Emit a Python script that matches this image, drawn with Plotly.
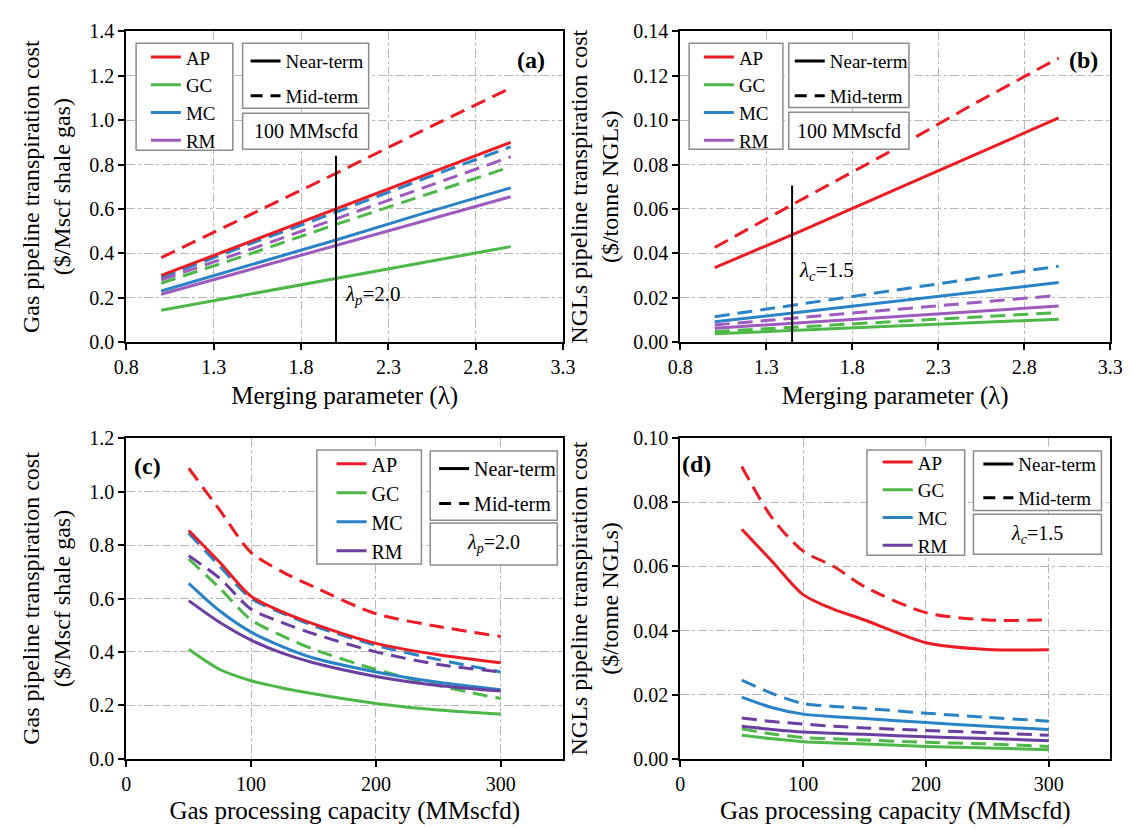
import plotly.graph_objects as go

W, H = 1133, 830
FONT = "Liberation Serif, Times New Roman, DejaVu Serif, serif"

regions = ["AP", "GC", "MC", "RM"]
colors_top = {"AP": "#EC1C24", "GC": "#4DB848", "MC": "#2A83C6", "RM": "#9E5BBE"}
colors_bot = {"AP": "#EC1C24", "GC": "#4DB848", "MC": "#2A83C6", "RM": "#6A3FA0"}

# ---- panel (a): gas pipeline cost vs merging parameter ----
lam = [1.0, 1.5, 2.0, 2.5, 3.0]
a_near = {
    "AP": [0.30, 0.45, 0.60, 0.75, 0.90],
    "GC": [0.143, 0.215, 0.285, 0.36, 0.43],
    "MC": [0.23, 0.345, 0.46, 0.58, 0.695],
    "RM": [0.215, 0.325, 0.435, 0.545, 0.655],
}
a_mid = {
    "AP": [0.38, 0.57, 0.76, 0.955, 1.145],
    "GC": [0.265, 0.395, 0.53, 0.66, 0.79],
    "MC": [0.29, 0.44, 0.585, 0.735, 0.88],
    "RM": [0.28, 0.415, 0.555, 0.695, 0.835],
}
a_marker_x = 2.0
a_marker_top = 0.84

# ---- panel (b): NGL pipeline cost vs merging parameter ----
b_near = {
    "AP": [0.0335, 0.050, 0.067, 0.084, 0.101],
    "GC": [0.0037, 0.0054, 0.007, 0.0087, 0.0103],
    "MC": [0.0091, 0.0135, 0.018, 0.0224, 0.0268],
    "RM": [0.0062, 0.0087, 0.0112, 0.0137, 0.0162],
}
b_mid = {
    "AP": [0.0426, 0.064, 0.085, 0.107, 0.128],
    "GC": [0.0047, 0.0069, 0.009, 0.0112, 0.0133],
    "MC": [0.0114, 0.017, 0.0228, 0.0285, 0.0342],
    "RM": [0.0077, 0.011, 0.0144, 0.0177, 0.021],
}
b_marker_x = 1.45
b_marker_top = 0.0705

# ---- panel (c) and (d): cost vs gas processing capacity ----
cap = [50, 75, 100, 125, 150, 200, 250, 300]
c_near = {
    "AP": [0.855, 0.735, 0.608, 0.55, 0.505, 0.432, 0.389, 0.359],
    "GC": [0.41, 0.334, 0.292, 0.265, 0.243, 0.207, 0.182, 0.167],
    "MC": [0.657, 0.553, 0.474, 0.42, 0.377, 0.325, 0.286, 0.258],
    "RM": [0.592, 0.51, 0.444, 0.395, 0.359, 0.308, 0.274, 0.253],
}
c_mid = {
    "AP": [1.088, 0.93, 0.772, 0.70, 0.644, 0.543, 0.495, 0.458],
    "GC": [0.748, 0.638, 0.52, 0.46, 0.41, 0.334, 0.274, 0.225],
    "MC": [0.845, 0.72, 0.60, 0.545, 0.498, 0.425, 0.371, 0.325],
    "RM": [0.76, 0.675, 0.56, 0.51, 0.468, 0.40, 0.353, 0.325],
}
d_near = {
    "AP": [0.0716, 0.0615, 0.0512, 0.0466, 0.0433, 0.0362, 0.0341, 0.034],
    "GC": [0.0073, 0.0062, 0.0053, 0.0049, 0.0046, 0.0038, 0.0033, 0.0028],
    "MC": [0.0192, 0.0159, 0.0139, 0.0131, 0.0125, 0.0113, 0.0101, 0.0091],
    "RM": [0.0101, 0.0091, 0.0083, 0.0079, 0.0076, 0.0068, 0.0063, 0.0056],
}
d_mid = {
    "AP": [0.0912, 0.075, 0.0648, 0.060, 0.0537, 0.0456, 0.0433, 0.0433],
    "GC": [0.0093, 0.0077, 0.0066, 0.0062, 0.0058, 0.0051, 0.0046, 0.0038],
    "MC": [0.0245, 0.0203, 0.0172, 0.0163, 0.0157, 0.0142, 0.0129, 0.0117],
    "RM": [0.0127, 0.0116, 0.0108, 0.0101, 0.0096, 0.0088, 0.0081, 0.0073],
}

x_lam_ticks = [0.8, 1.3, 1.8, 2.3, 2.8, 3.3]
x_cap_ticks = [0, 100, 200, 300]

# --------------------------------------------------------------------
def px_x(p):
    return p / W


def px_y(p):
    return 1 - p / H


fig = go.Figure()

DASH = "15px,8px"
LW = 3

panels = [
    ("a", "x", "y", lam, a_near, a_mid, colors_top, "legend", "legend2", "linear"),
    ("b", "x2", "y2", lam, b_near, b_mid, colors_top, "legend3", "legend4", "linear"),
    ("c", "x3", "y3", cap, c_near, c_mid, colors_bot, "legend5", "legend6", "spline"),
    ("d", "x4", "y4", cap, d_near, d_mid, colors_bot, "legend7", "legend8", "spline"),
]

for key, xa, ya, xs, near, mid, cols, leg_c, leg_l, shape in panels:
    for r in regions:
        fig.add_trace(go.Scatter(
            x=xs, y=mid[r], mode="lines", xaxis=xa, yaxis=ya,
            line=dict(color=cols[r], width=LW, dash=DASH, shape=shape, smoothing=0.8),
            showlegend=False, hoverinfo="skip"))
    for r in regions:
        fig.add_trace(go.Scatter(
            x=xs, y=near[r], mode="lines", xaxis=xa, yaxis=ya, name=r,
            line=dict(color=cols[r], width=LW, shape=shape, smoothing=0.8),
            legend=leg_c, legendgroup=key + r, showlegend=True, hoverinfo="skip"))
    fig.add_trace(go.Scatter(
        x=[None], y=[None], mode="lines", xaxis=xa, yaxis=ya, name="Near-term",
        line=dict(color="black", width=LW), legend=leg_l, legendgroup=key + "near"))
    fig.add_trace(go.Scatter(
        x=[None], y=[None], mode="lines", xaxis=xa, yaxis=ya, name="Mid-term",
        line=dict(color="black", width=LW, dash="12px,8px"), legend=leg_l,
        legendgroup=key + "mid"))

fig.add_trace(go.Scatter(x=[a_marker_x, a_marker_x], y=[0, a_marker_top], mode="lines",
                         xaxis="x", yaxis="y", line=dict(color="black", width=2),
                         showlegend=False, hoverinfo="skip"))
fig.add_trace(go.Scatter(x=[b_marker_x, b_marker_x], y=[0, b_marker_top], mode="lines",
                         xaxis="x2", yaxis="y2", line=dict(color="black", width=2),
                         showlegend=False, hoverinfo="skip"))

axis_common = dict(
    showline=True, linecolor="black", linewidth=2, mirror=True,
    ticks="outside", ticklen=6, tickwidth=2, tickcolor="black",
    showgrid=True, gridcolor="#b8b8b8", griddash="dashdot", gridwidth=1,
    zeroline=False, tickfont=dict(family=FONT, size=20, color="black"),
)
xtitle_font = dict(family=FONT, size=25, color="black")
ytitle_font = dict(family=FONT, size=24, color="black")

left_dom = [px_x(116), px_x(563)]
right_dom = [px_x(683), px_x(1123)]
top_dom = [px_y(340), px_y(21)]
bot_dom = [px_y(768), px_y(439)]

YT_A = "Gas pipeline transpiration cost<br>($/Mscf shale gas)"
YT_B = "NGLs pipeline transpiration cost<br>($/tonne NGLs)"
XT_L = "Merging parameter (λ)"
XT_C = "Gas processing capacity (MMscfd)"

fig.update_layout(
    xaxis=dict(domain=left_dom, range=[0.8, 3.3], tickvals=x_lam_ticks, tickformat=".1f",
               anchor="y", title=dict(text=XT_L, font=xtitle_font, standoff=10), **axis_common),
    yaxis=dict(domain=top_dom, range=[0, 1.4], dtick=0.2, tickformat=".1f", anchor="x",
               title=dict(text=YT_A, font=ytitle_font, standoff=12), **axis_common),
    xaxis2=dict(domain=right_dom, range=[0.8, 3.3], tickvals=x_lam_ticks, tickformat=".1f",
                anchor="y2", title=dict(text=XT_L, font=xtitle_font, standoff=10), **axis_common),
    yaxis2=dict(domain=top_dom, range=[0, 0.14], dtick=0.02, tickformat=".2f", anchor="x2",
                title=dict(text=YT_B, font=ytitle_font, standoff=8), **axis_common),
    xaxis3=dict(domain=left_dom, range=[0, 350], tickvals=x_cap_ticks, anchor="y3",
                title=dict(text=XT_C, font=xtitle_font, standoff=8), **axis_common),
    yaxis3=dict(domain=bot_dom, range=[0, 1.2], dtick=0.2, tickformat=".1f", anchor="x3",
                title=dict(text=YT_A, font=ytitle_font, standoff=12), **axis_common),
    xaxis4=dict(domain=right_dom, range=[0, 350], tickvals=x_cap_ticks, anchor="y4",
                title=dict(text=XT_C, font=xtitle_font, standoff=8), **axis_common),
    yaxis4=dict(domain=bot_dom, range=[0, 0.10], dtick=0.02, tickformat=".2f", anchor="x4",
                title=dict(text=YT_B, font=ytitle_font, standoff=8), **axis_common),
)

# per panel: color box, line box, info box, info text, label centre,
#            color legend (x, top, font, gap), line legend (x, top, font, gap)
boxes = {
    "a": ((126, 33, 225, 143), (235, 33, 364, 100), (235, 105, 364, 142), "100 MMscfd",
          (530, 50), (136, 28, 19, 0), (238, 32, 19, 7)),
    "b": ((692, 33, 788, 142), (794, 33, 917, 99), (794, 104, 917, 142), "100 MMscfd",
          (1096, 50), (702, 28, 19, 0), (795, 32, 19, 7)),
    "c": ((311, 451, 418, 568), (427, 452, 557, 523), (427, 526, 557, 569),
          "<i>λ</i><sub><i>p</i></sub>=2.0", (138, 467), (326, 445, 20, 0), (431, 450, 20, 6)),
    "d": ((874, 451, 974, 559), (983, 452, 1114, 513), (983, 517, 1114, 558),
          "<i>λ</i><sub><i>c</i></sub>=1.5", (700, 465), (885, 444, 19, 0), (988, 446, 19, 6)),
}
legend_names = {"a": ("legend", "legend2"), "b": ("legend3", "legend4"),
                "c": ("legend5", "legend6"), "d": ("legend7", "legend8")}

shapes = []
annotations = []
legend_cfg = {}
for key, (cb, lb, ib, itext, lab, lc_pos, ll_pos) in boxes.items():
    for b in (cb, lb, ib):
        shapes.append(dict(type="rect", xref="paper", yref="paper",
                           x0=px_x(b[0]), x1=px_x(b[2]), y0=px_y(b[3]), y1=px_y(b[1]),
                           line=dict(color="#8c8c8c", width=1.5), fillcolor="white",
                           layer="above"))
    annotations.append(dict(xref="paper", yref="paper", x=px_x((ib[0] + ib[2]) / 2),
                            y=px_y((ib[1] + ib[3]) / 2), text=itext, showarrow=False,
                            xanchor="center", yanchor="middle",
                            font=dict(family=FONT, size=20, color="black")))
    annotations.append(dict(xref="paper", yref="paper", x=px_x(lab[0]), y=px_y(lab[1]),
                            text="<b>(" + key + ")</b>", showarrow=False,
                            xanchor="center", yanchor="middle",
                            font=dict(family=FONT, size=24, color="black")))
    lc, ll = legend_names[key]
    legend_cfg[lc] = dict(x=px_x(lc_pos[0]), y=px_y(lc_pos[1]), xanchor="left", yanchor="top",
                          bgcolor="rgba(0,0,0,0)", borderwidth=0,
                          font=dict(family=FONT, size=lc_pos[2], color="black"),
                          tracegroupgap=lc_pos[3], itemclick=False, itemdoubleclick=False)
    legend_cfg[ll] = dict(x=px_x(ll_pos[0]), y=px_y(ll_pos[1]), xanchor="left", yanchor="top",
                          bgcolor="rgba(0,0,0,0)", borderwidth=0,
                          font=dict(family=FONT, size=ll_pos[2], color="black"),
                          tracegroupgap=ll_pos[3], itemclick=False, itemdoubleclick=False)

annotations.append(dict(xref="x", yref="y", x=a_marker_x + 0.04, y=0.21,
                        text="<i>λ</i><sub><i>p</i></sub>=2.0", showarrow=False,
                        xanchor="left", yanchor="middle",
                        font=dict(family=FONT, size=21, color="black")))
annotations.append(dict(xref="x2", yref="y2", x=b_marker_x + 0.03, y=0.032,
                        text="<i>λ</i><sub><i>c</i></sub>=1.5", showarrow=False,
                        xanchor="left", yanchor="middle",
                        font=dict(family=FONT, size=21, color="black")))

fig.update_layout(
    width=W, height=H, margin=dict(l=0, r=0, t=0, b=0),
    paper_bgcolor="white", plot_bgcolor="white",
    font=dict(family=FONT, color="black"),
    shapes=shapes, annotations=annotations,
    **legend_cfg,
)

fig.write_html("out.html")
